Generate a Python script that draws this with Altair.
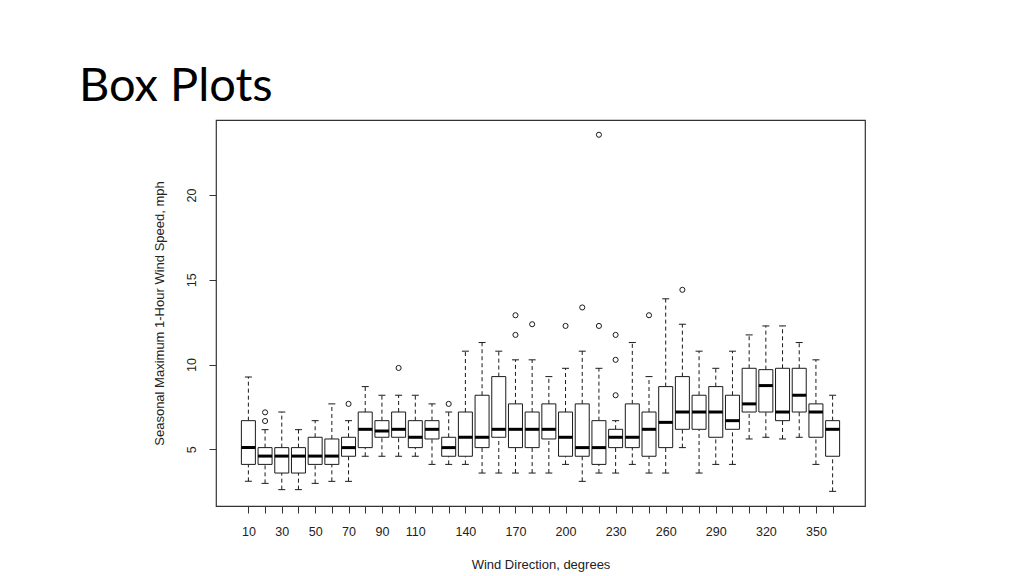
import altair as alt
import pandas as pd

title_text = "Box Plots"
x_title = "Wind Direction, degrees"
y_title = "Seasonal Maximum 1-Hour Wind Speed, mph"

directions = list(range(10, 361, 10))
labelled = [10, 30, 50, 70, 90, 110, 140, 170, 200, 230, 260, 290, 320, 350]

whisker_lo = [3.11, 2.99, 2.62, 2.62, 2.99, 3.11, 3.11, 4.59, 4.59, 4.59, 4.59, 4.11,
              4.11, 4.11, 3.60, 3.60, 3.60, 3.60, 3.60, 4.11, 3.11, 3.60, 3.60, 4.11,
              3.60, 3.60, 5.10, 3.60, 4.11, 4.11, 5.61, 5.71, 5.61, 5.71, 4.11, 2.52]
q1 = [4.11, 4.11, 3.60, 3.60, 4.11, 4.11, 4.59, 5.10, 5.71, 5.71, 5.10, 5.61,
      4.59, 4.59, 5.10, 5.71, 5.10, 5.10, 5.61, 4.59, 4.59, 4.11, 5.10, 5.10,
      4.59, 5.10, 6.18, 6.18, 5.71, 6.18, 7.20, 7.20, 6.69, 7.20, 5.71, 4.59]
median = [5.10, 4.60, 4.60, 4.60, 4.60, 4.60, 5.10, 6.18, 6.08, 6.18, 5.71, 6.18,
          5.10, 5.71, 5.71, 6.18, 6.18, 6.18, 6.18, 5.71, 5.10, 5.10, 5.71, 5.71,
          6.18, 6.59, 7.20, 7.20, 7.20, 6.69, 7.68, 8.76, 7.20, 8.19, 7.20, 6.18]
q3 = [6.69, 5.10, 5.10, 5.10, 5.71, 5.61, 5.71, 7.20, 6.69, 7.20, 6.69, 6.69,
      5.71, 7.20, 8.19, 9.29, 7.68, 7.20, 7.68, 7.20, 7.68, 6.69, 6.18, 7.68,
      7.20, 8.70, 9.29, 8.19, 8.70, 8.19, 9.78, 9.70, 9.78, 9.78, 7.68, 6.69]
whisker_hi = [9.27, 6.16, 7.20, 6.16, 6.69, 7.68, 6.69, 8.70, 8.19, 8.19, 8.19, 7.68,
              7.20, 10.79, 11.30, 10.79, 10.28, 10.28, 9.29, 9.78, 10.79, 9.78, 6.69, 11.30,
              9.29, 13.88, 12.38, 10.79, 9.78, 10.79, 11.75, 12.28, 12.28, 11.30, 10.28, 8.19]

outlier_dir = [20, 20, 70, 100, 130, 170, 170, 180, 200, 210, 220, 220, 230, 230, 230, 250, 270]
outlier_val = [7.18, 6.67, 7.68, 9.80, 7.68, 12.91, 11.75, 12.38, 12.28, 13.37, 23.56, 12.28,
               11.75, 10.28, 8.19, 12.91, 14.41]

df = pd.DataFrame({
    "dir": directions, "lo": whisker_lo, "q1": q1, "med": median,
    "q3": q3, "hi": whisker_hi,
})
out_df = pd.DataFrame({"dir": outlier_dir, "val": outlier_val})
title_df = pd.DataFrame({"t": [title_text]})

lab_list = ",".join(str(v) for v in labelled)
x_axis = alt.Axis(
    values=directions,
    labelExpr=f"indexof([{lab_list}], datum.value) >= 0 ? datum.label : ''",
    title=x_title, grid=False, domain=False, tickSize=7, labelPadding=12,
    titlePadding=21, labelFlush=False, labelOverlap=False,
)
y_axis = alt.Axis(
    values=[5, 10, 15, 20], title=y_title, grid=False, domain=False, tickSize=7,
    labelAngle=270, labelAlign="center", labelBaseline="bottom", labelPadding=11,
    titlePadding=19,
)
xs = alt.Scale(domain=[-9.4, 379.4], nice=False, zero=False, padding=0)
ys = alt.Scale(domain=[1.655, 24.43], nice=False, zero=False, padding=0)

X = alt.X("dir:Q", scale=xs, axis=x_axis)


def Y(field):
    return alt.Y(f"{field}:Q", scale=ys, axis=y_axis)


base = alt.Chart(df)
ink = "#1a1a1a"

whisk_up = base.mark_rule(color=ink, strokeWidth=1, strokeDash=[4, 3]).encode(
    x=X, y=Y("q3"), y2="hi:Q")
whisk_lo = base.mark_rule(color=ink, strokeWidth=1, strokeDash=[4, 3]).encode(
    x=X, y=Y("lo"), y2="q1:Q")
cap_hi = base.mark_tick(orient="horizontal", size=7, thickness=1, color=ink, opacity=1).encode(
    x=X, y=Y("hi"))
cap_lo = base.mark_tick(orient="horizontal", size=7, thickness=1, color=ink, opacity=1).encode(
    x=X, y=Y("lo"))
boxes = base.mark_bar(size=14, fill="white", stroke=ink, strokeWidth=1).encode(
    x=X, y=Y("q1"), y2="q3:Q")
meds = base.mark_tick(orient="horizontal", size=14, thickness=3, color="black", opacity=1).encode(
    x=X, y=Y("med"))
outs = alt.Chart(out_df).mark_point(shape="circle", filled=False, size=26, color=ink,
                                    strokeWidth=1, opacity=1).encode(
    x=X, y=Y("val"))
title = alt.Chart(title_df).mark_text(font="Lato", fontSize=47, align="left",
                                      baseline="alphabetic", color="black").encode(
    x=alt.value(-137), y=alt.value(-19), text="t:N")

chart = alt.layer(whisk_up, whisk_lo, cap_hi, cap_lo, boxes, meds, outs, title).properties(
    width=649, height=386,
    autosize=alt.AutoSizeParams(type="none"),
    padding={"left": 208, "top": 112, "right": 151, "bottom": 70},
    background="white",
).configure_view(
    stroke="#333333", strokeWidth=1.2
).configure_axis(
    labelFont="Liberation Sans", labelFontSize=12.5, labelColor="#222222",
    titleFont="Liberation Sans", titleFontSize=13, titleColor="#222222",
    titleFontWeight="normal", tickColor="#333333", tickWidth=1,
)

chart.save("out.html", embed_options={"renderer": "svg", "actions": False})
